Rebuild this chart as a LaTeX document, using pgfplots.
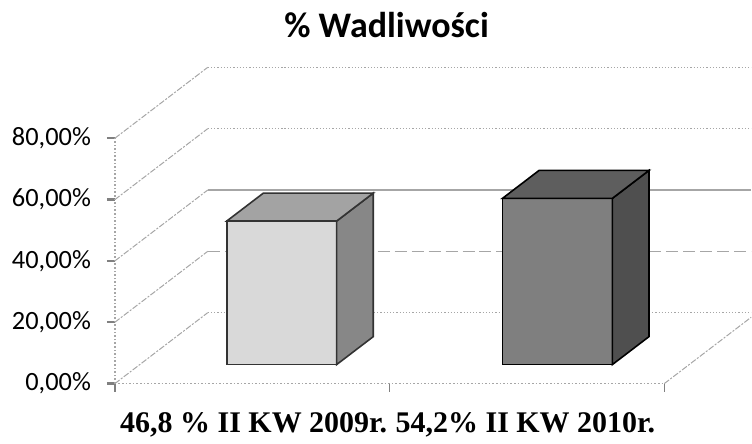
\documentclass[border=0pt]{standalone}
\usepackage{pgfplots}
\pgfplotsset{compat=1.18}
\usepackage{fontspec}
\setmainfont{Carlito}
\newfontfamily\timesfont{Liberation Serif}
\definecolor{gridgray}{HTML}{A6A6A6}
\definecolor{tickgray}{HTML}{808080}
\definecolor{bOneFront}{HTML}{D9D9D9}
\definecolor{bOneSide}{HTML}{878787}
\definecolor{bOneTop}{HTML}{A3A3A3}
\definecolor{bTwoFront}{HTML}{7F7F7F}
\definecolor{bTwoSide}{HTML}{4F4F4F}
\definecolor{bTwoTop}{HTML}{5E5E5E}
% oblique projection: x (px), d = depth 0..1, z = percent
\pgfplotsset{table/proj/.style={row sep=\\,
  x expr=\thisrow{x}+93*\thisrow{d},
  y expr=\thisrow{z}+23.13*\thisrow{d}}}
\begin{document}
\begin{tikzpicture}
\begin{axis}[
  x=0.5pt, y=1.535pt,
  xmin=115, xmax=752, ymin=0, ymax=103.3,
  clip=false,
  axis line style={draw=none},
  tick pos=left,
  tick align=outside,
  ytick={0,20,40,60,80},
  yticklabels={{0,00\%},{20,00\%},{40,00\%},{60,00\%},{80,00\%}},
  yticklabel style={font=\fontsize{13.2}{15}\selectfont, anchor=east, xshift=-4.5pt},
  ytick style={tickgray, line width=1.1pt},
  major tick length=4pt,
  xtick={115,390,665},
  xticklabels={},
  xtick style={tickgray, line width=0.8pt},
  extra x ticks={254,526},
  extra x tick labels={{46,8 \% II KW 2009r.},{54,2\% II KW 2010r.}},
  extra x tick style={major tick length=0pt,
    xticklabel style={font=\timesfont\bfseries\fontsize{15}{17}\selectfont, anchor=base, yshift=-24.5pt}},
  title={\% Wadliwości},
  title style={font=\bfseries\fontsize{18}{20}\selectfont, at={(0.427,1.095)}, anchor=center},
]
% bounding box of the whole picture
\path (axis cs:0,-18.24) rectangle (axis cs:752,125.08);

% back wall lines
\addplot[gridgray, line width=0.6pt, densely dotted] table[proj] {x d z\\ 115 1 0\\ 659 1 0\\};
\addplot[gridgray, line width=0.8pt, dash pattern=on 6pt off 2.5pt] table[proj] {x d z\\ 115 1 20\\ 659 1 20\\};
\addplot[gridgray, line width=0.7pt] table[proj] {x d z\\ 115 1 40\\ 659 1 40\\};
\addplot[gridgray, line width=0.6pt, densely dotted] table[proj] {x d z\\ 115 1 60\\ 659 1 60\\};
\addplot[gridgray, line width=0.6pt, densely dotted] table[proj] {x d z\\ 115 1 80\\ 659 1 80\\};

% left wall lines
\addplot[gridgray, line width=0.5pt, dash pattern=on 3pt off 0.8pt on 1pt off 0.8pt] table[proj] {x d z\\ 115 0 0\\ 115 1 0\\};
\addplot[gridgray, line width=0.5pt, dash pattern=on 3pt off 0.8pt on 1pt off 0.8pt] table[proj] {x d z\\ 115 0 20\\ 115 1 20\\};
\addplot[gridgray, line width=0.5pt, dash pattern=on 3pt off 0.8pt on 1pt off 0.8pt] table[proj] {x d z\\ 115 0 40\\ 115 1 40\\};
\addplot[gridgray, line width=0.5pt, dash pattern=on 3pt off 0.8pt on 1pt off 0.8pt] table[proj] {x d z\\ 115 0 60\\ 115 1 60\\};
\addplot[gridgray, line width=0.5pt, dash pattern=on 3pt off 0.8pt on 1pt off 0.8pt] table[proj] {x d z\\ 115 0 80\\ 115 1 80\\};

% front vertical axis and floor edges
\addplot[gridgray, line width=0.8pt, densely dotted] table[proj] {x d z\\ 115 0 0\\ 115 0 80\\};
\addplot[gridgray, line width=0.8pt, densely dotted] table[proj] {x d z\\ 115 0 0\\ 665 0 0\\};
\addplot[gridgray, line width=0.5pt, dash pattern=on 3pt off 0.8pt on 1pt off 0.8pt] table[proj] {x d z\\ 665 0 0\\ 665 0.935 0\\};

% bar 1 : 46.8
\addplot[fill=bOneFront, draw=black!80, line width=0.8pt] table[proj] {x d z\\ 202.1 0.268 0\\ 312.1 0.268 0\\ 312.1 0.268 46.8\\ 202.1 0.268 46.8\\} -- cycle;
\addplot[fill=bOneSide, draw=black!80, line width=0.8pt] table[proj] {x d z\\ 312.1 0.268 0\\ 312.1 0.662 0\\ 312.1 0.662 46.8\\ 312.1 0.268 46.8\\} -- cycle;
\addplot[fill=bOneTop, draw=black!80, line width=0.8pt] table[proj] {x d z\\ 202.1 0.268 46.8\\ 312.1 0.268 46.8\\ 312.1 0.662 46.8\\ 202.1 0.662 46.8\\} -- cycle;

% bar 2 : 54.2
\addplot[fill=bTwoFront, draw=black, line width=0.8pt] table[proj] {x d z\\ 478.1 0.268 0\\ 588.1 0.268 0\\ 588.1 0.268 54.2\\ 478.1 0.268 54.2\\} -- cycle;
\addplot[fill=bTwoSide, draw=black, line width=0.8pt] table[proj] {x d z\\ 588.1 0.268 0\\ 588.1 0.662 0\\ 588.1 0.662 54.2\\ 588.1 0.268 54.2\\} -- cycle;
\addplot[fill=bTwoTop, draw=black, line width=0.8pt] table[proj] {x d z\\ 478.1 0.268 54.2\\ 588.1 0.268 54.2\\ 588.1 0.662 54.2\\ 478.1 0.662 54.2\\} -- cycle;
\end{axis}
\end{tikzpicture}
\end{document}
